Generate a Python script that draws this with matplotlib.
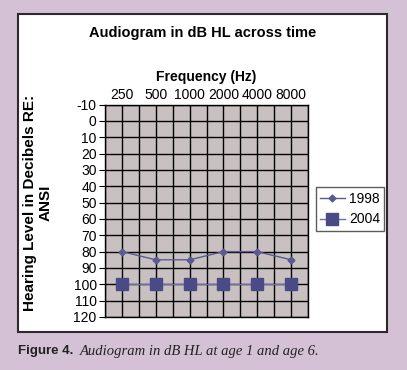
import matplotlib.pyplot as plt
import numpy as np
from matplotlib.patches import Rectangle

# Data
freqs = ['250', '500', '1000', '2000', '4000', '8000']
hl_1998 = [80, 85, 85, 80, 80, 85]
hl_2004 = [100, 100, 100, 100, 100, 100]
yticks = list(range(-10, 130, 10))

plt.rcParams['font.family'] = ['Liberation Sans', 'DejaVu Sans']
plt.rcParams['axes.unicode_minus'] = False

W, H = 407, 370
fig = plt.figure(figsize=(W / 100, H / 100), dpi=100)
fig.patch.set_facecolor('#d5c1d5')

# white panel with dark border
fig.patches.append(Rectangle((18 / W, 1 - 332 / H), (387 - 18) / W, (332 - 14) / H,
                             transform=fig.transFigure, facecolor='white',
                             edgecolor='#2a2a2a', lw=1.5, zorder=-5))

ax = fig.add_axes([105 / W, 1 - 317 / H, (308 - 105) / W, (317 - 104.5) / H])
ax.set_zorder(2)
ax.set_facecolor('#c9c1c1')

x = np.arange(len(freqs))
ax.plot(x, hl_1998, color='#5a5a8e', marker='D', markersize=3.5, lw=1,
        label='1998', zorder=3)
ax.plot(x, hl_2004, color='#7070a8', marker='s', markersize=8,
        markerfacecolor='#4a4a86', markeredgecolor='#4a4a86', lw=1,
        label='2004', zorder=3)

ax.set_xlim(-0.5, len(freqs) - 0.5)
ax.set_ylim(120, -10)
ax.set_xticks(x)
ax.set_xticklabels(freqs)
ax.xaxis.tick_top()
ax.tick_params(axis='x', length=0, pad=2, labelsize=10)
ax.set_xticks(np.arange(-0.5, len(freqs), 1.0), minor=True)
ax.tick_params(axis='x', which='minor', length=0)
ax.set_yticks(yticks)
ax.tick_params(axis='y', length=4, direction='out', labelsize=10, pad=2)
ax.grid(True, which='both', axis='x', color='black', lw=1)
ax.grid(True, which='major', axis='y', color='black', lw=1)
for s in ax.spines.values():
    s.set_color('black')
    s.set_linewidth(1)

fig.text(203 / W, 1 - 33 / H, 'Audiogram in dB HL across time', ha='center',
         va='center', fontsize=10.5, fontweight='bold')
fig.text(206 / W, 1 - 77 / H, 'Frequency (Hz)', ha='center', va='center',
         fontsize=10, fontweight='bold')
fig.text(38 / W, 1 - 203 / H, 'Hearing Level in Decibels RE:\nANSI', ha='center',
         va='center', rotation=90, fontsize=11, fontweight='bold',
         multialignment='center', linespacing=1.1)

leg = fig.legend(loc='center', bbox_to_anchor=(350 / W, 1 - 209 / H),
                 frameon=True, fancybox=False, fontsize=10, handlelength=1.8,
                 borderpad=0.3, labelspacing=0.5, handletextpad=0.3)
leg.get_frame().set_edgecolor('#333333')
leg.get_frame().set_linewidth(1)

fig.text(18 / W, 1 - 351 / H, 'Figure 4.', ha='left', va='center',
         fontsize=9.5, fontweight='bold', color='#222222')
fig.text(80 / W, 1 - 351 / H, 'Audiogram in dB HL at age 1 and age 6.',
         ha='left', va='center', fontsize=10.5, style='italic',
         family=['Liberation Serif', 'DejaVu Serif'], color='#222222')

fig.savefig('out.png', dpi=100, facecolor=fig.get_facecolor())
